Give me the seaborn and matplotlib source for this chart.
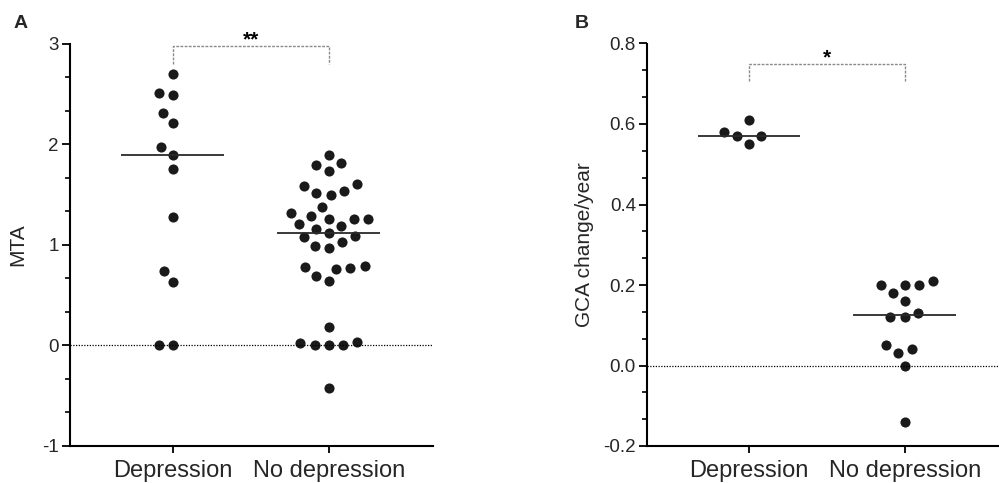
import numpy as np
import pandas as pd
import matplotlib
matplotlib.use("Agg")
import matplotlib.pyplot as plt
from matplotlib.ticker import AutoMinorLocator, MultipleLocator, FormatStrFormatter
import seaborn as sns

# data
groups = ["Depression", "No depression"]

mta_depression = [2.70, 2.51, 2.49, 2.31, 2.21, 1.97, 1.89, 1.75, 1.28, 0.74, 0.63, 0.00, 0.00]
mta_no_depression = [1.89, 1.81, 1.79, 1.73, 1.60, 1.58, 1.53, 1.51, 1.49, 1.38, 1.32, 1.29,
                     1.26, 1.26, 1.26, 1.21, 1.19, 1.16, 1.12, 1.09, 1.08, 1.03, 0.99, 0.97,
                     0.79, 0.78, 0.77, 0.76, 0.69, 0.64, 0.18, 0.03, 0.02, 0.00, 0.00, 0.00,
                     -0.42]

gca_depression = [0.61, 0.58, 0.57, 0.57, 0.55]
gca_no_depression = [0.21, 0.20, 0.20, 0.20, 0.18, 0.16, 0.13, 0.12, 0.12, 0.05, 0.04, 0.03,
                     0.00, -0.14]

sns.set_theme(style="ticks")
plt.rcParams["font.family"] = ["Liberation Sans", "DejaVu Sans"]
plt.rcParams["axes.unicode_minus"] = False

dot_color = "#1a1a1a"


def make_df(a, b):
    return pd.DataFrame({
        "group": [groups[0]] * len(a) + [groups[1]] * len(b),
        "value": list(a) + list(b),
    })


def draw_panel(ax, df, ylabel, ylim, major, bracket, stars, fmt, labelpad):
    sns.swarmplot(data=df, x="group", y="value", order=groups, color=dot_color,
                  size=8.6, linewidth=1.3, edgecolor="white", ax=ax, zorder=2)
    med = df.groupby("group")["value"].median().reindex(groups)
    for i, m in enumerate(med):
        ax.hlines(m, i - 0.33, i + 0.33, color="#2a2a2a", lw=1.3, zorder=3)
    ax.axhline(0, color="black", lw=0.9, ls=(0, (1, 1.2)), zorder=3)

    # significance bracket
    lo, hi = bracket
    ax.plot([0, 0, 1, 1], [lo, hi, hi, lo], color="#8a8a8a", lw=1.0,
            ls=(0, (2, 1)), clip_on=False, zorder=3)
    ax.text(0.5, hi, stars, ha="center", va="baseline", fontsize=15,
            fontweight="bold", color="black")

    ax.set_ylim(*ylim)
    ax.yaxis.set_major_locator(MultipleLocator(major))
    ax.yaxis.set_minor_locator(AutoMinorLocator(3))
    ax.yaxis.set_major_formatter(FormatStrFormatter(fmt))
    ax.set_xlabel("")
    ax.set_ylabel(ylabel, fontsize=15, labelpad=labelpad)

    sns.despine(ax=ax)
    for s in ["left", "bottom"]:
        ax.spines[s].set_linewidth(1.5)
        ax.spines[s].set_color("black")
    ax.tick_params(axis="y", which="major", length=6, width=1.3, labelsize=13.5,
                   color="black", pad=2)
    ax.tick_params(axis="y", which="minor", length=3.5, width=1.2, color="black")
    ax.tick_params(axis="x", which="major", length=5, width=1.3, labelsize=17,
                   color="black", pad=5)


fig = plt.figure(figsize=(9.99, 4.83), dpi=100)
ax1 = fig.add_axes([70 / 999, 37 / 483, (433 - 70) / 999, (446 - 43.5) / 483])
ax2 = fig.add_axes([647 / 999, 37 / 483, (998 - 647) / 999, (446 - 43.5) / 483])

draw_panel(ax1, make_df(mta_depression, mta_no_depression), "MTA", (-1, 3), 1,
           (2.80, 2.98), "**", "%d", 11)
ax1.set_xlim(-0.66, 1.667)

draw_panel(ax2, make_df(gca_depression, gca_no_depression), "GCA change/year", (-0.2, 0.8),
           0.2, (0.706, 0.75), "*", "%.1f", 7)
ax2.set_xlim(-0.656, 1.60)

fig.text(0.014, 0.942, "A", fontsize=14, fontweight="bold", ha="left", va="baseline")
fig.text(0.575, 0.942, "B", fontsize=14, fontweight="bold", ha="left", va="baseline")

fig.savefig("out.png", dpi=100)
